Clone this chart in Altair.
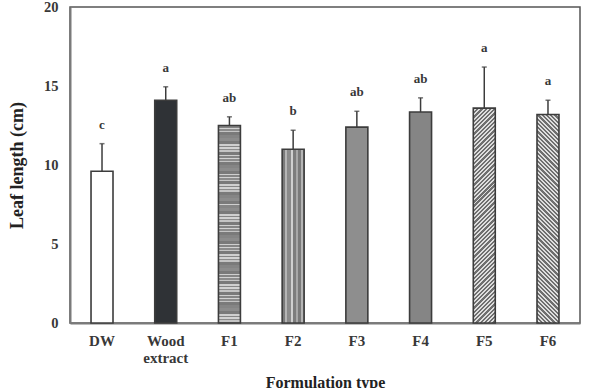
import math
import altair as alt
import pandas as pd

# Leaf length by formulation type (mean, standard deviation, significance letter)
categories = ["DW", "Wood", "F1", "F2", "F3", "F4", "F5", "F6"]
means = [9.6, 14.1, 12.5, 11.0, 12.4, 13.35, 13.6, 13.2]
sds = [1.75, 0.85, 0.55, 1.2, 1.0, 0.9, 2.6, 0.9]
letters = ["c", "a", "ab", "b", "ab", "ab", "a", "a"]
y_ticks = [0, 5, 10, 15, 20]

df = pd.DataFrame({"cat": categories, "mean": means, "sd": sds, "letter": letters})
df["top"] = df["mean"] + df["sd"]

W, H = 510, 316
Y_MAX = 20
PAD_IN, PAD_OUT = 0.655, 0.33
step = W / (len(categories) - PAD_IN + 2 * PAD_OUT)
bar_w = step * (1 - PAD_IN)

FONT = "Liberation Serif"
INK = "#383838"
EDGE = "#3c3c3c"

x_scale = alt.Scale(domain=categories, paddingInner=PAD_IN, paddingOuter=PAD_OUT)
y_scale = alt.Scale(domain=[0, Y_MAX], nice=False, zero=True)


def bands(colors, widths, total):
    """Hard-edged gradient stops repeating colour bands of given pixel widths."""
    stops, pos, i = [], 0.0, 0
    while pos < total:
        c = colors[i % len(colors)]
        w = widths[i % len(widths)]
        a = pos / total
        b = min((pos + w) / total, 1.0)
        stops.append(alt.GradientStop(color=c, offset=round(a, 5)))
        stops.append(alt.GradientStop(color=c, offset=round(b, 5)))
        pos += w
        i += 1
    return stops


def horizontal_stripes(h, colors, widths):
    return alt.Gradient(gradient="linear", x1=0, y1=0, x2=0, y2=1,
                        stops=bands(colors, widths, h))


def vertical_stripes(w, colors, widths):
    return alt.Gradient(gradient="linear", x1=0, y1=0, x2=1, y2=0,
                        stops=bands(colors, widths, w))


def diagonal_stripes(w, h, colors, widths, rising=True):
    # 45-degree bands inside a bounding-box gradient of a w x h rectangle
    r = w / h
    c = (r + 1) / (r * r + 1)
    total = (w + h) / math.sqrt(2)
    if rising:
        g = dict(x1=0, y1=0, x2=round(c * r, 5), y2=round(c, 5))
    else:
        g = dict(x1=0, y1=1, x2=round(c * r, 5), y2=round(1 - c, 5))
    return alt.Gradient(gradient="linear", stops=bands(colors, widths, total), **g)


def bar_h(v):
    return v / Y_MAX * H


fills = {
    "DW": "#ffffff",
    "Wood": "#2f3236",
    "F1": horizontal_stripes(bar_h(means[2]),
                             ["#858585", "#d2d2d2", "#8c8c8c", "#c4c4c4", "#7a7a7a", "#cfcfcf"],
                             [2, 1, 2, 1, 3, 1]),
    "F2": vertical_stripes(bar_w,
                           ["#7a7a7a", "#b5b5b5", "#8a8a8a", "#d0d0d0", "#7d7d7d", "#a8a8a8"],
                           [3, 2, 4, 2, 3, 2]),
    "F3": "#8e8e8e",
    "F4": "#858585",
    "F5": diagonal_stripes(bar_w, bar_h(means[6]), ["#6f6f6f", "#dedede"], [1.6, 1.4], rising=True),
    "F6": diagonal_stripes(bar_w, bar_h(means[7]), ["#6f6f6f", "#dedede"], [1.6, 1.4], rising=False),
}

base = alt.Chart(df)

x_axis = alt.Axis(
    title="Formulation type", labelAngle=0, ticks=False, domain=True,
    domainColor="#7a7a7a", domainWidth=2,
    labelExpr="datum.value == 'Wood' ? ['Wood', 'extract'] : datum.value",
    labelFont=FONT, labelFontWeight="bold", labelFontSize=15, labelColor=INK,
    labelPadding=10, labelLineHeight=17,
    titleFont=FONT, titleFontWeight="bold", titleFontSize=16, titleColor="#222",
    titlePadding=9,
)
y_axis = alt.Axis(
    title="Leaf length (cm)", values=y_ticks, ticks=False, grid=False,
    domainColor="#7a7a7a", domainWidth=2,
    labelFont=FONT, labelFontWeight="bold", labelFontSize=14.5, labelColor=INK,
    labelPadding=12,
    titleFont=FONT, titleFontWeight="bold", titleFontSize=18, titleColor="#222",
    titlePadding=17,
)

x_main = alt.X("cat:N", sort=categories, scale=x_scale, axis=x_axis)
y_mean = alt.Y("mean:Q", scale=y_scale, axis=y_axis)
y_top = alt.Y("top:Q", scale=y_scale, axis=y_axis)

bar_layers = []
for cat in categories:
    bar_layers.append(
        base.transform_filter(alt.datum.cat == cat)
        .mark_bar(fill=fills[cat], stroke=EDGE, strokeWidth=1.6)
        .encode(x=x_main, y=y_mean)
    )

err = base.mark_rule(color=EDGE, strokeWidth=1.5).encode(
    x=x_main, y=y_mean, y2="top:Q",
)
cap = base.mark_tick(color=EDGE, thickness=1.5, size=5, orient="horizontal").encode(
    x=x_main, y=y_top,
)
sig = base.mark_text(
    font=FONT, fontWeight="bold", fontSize=13, color=INK, baseline="bottom", dy=-12
).encode(
    x=x_main, y=y_top, text="letter:N",
)

chart = (
    alt.layer(*bar_layers, err, cap, sig)
    .properties(
        width=W, height=H,
        autosize=alt.AutoSizeParams(type="none"),
        padding={"left": 70, "top": 7, "right": 10, "bottom": 65},
    )
    .configure_view(stroke="#555555", strokeWidth=1.5)
    .configure_axis(grid=False)
)

chart.save("out.html", embed_options={"renderer": "svg", "actions": False})
